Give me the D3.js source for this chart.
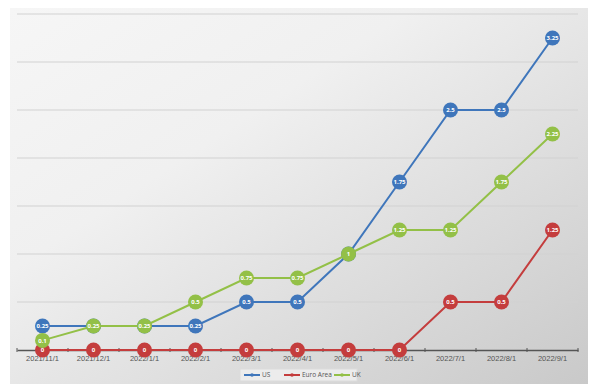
<!DOCTYPE html>
<html>
<head>
<meta charset="utf-8">
<script src="https://cdn.jsdelivr.net/npm/d3@7"></script>
<style>
  body { margin: 0; background: #fff; }
  svg { display: block; font-family: "Open Sans", "DejaVu Sans", sans-serif; }
</style>
</head>
<body>
<div id="chart"></div>
<script>
// categories and series values
var dates = ["2021/11/1", "2021/12/1", "2022/1/1", "2022/2/1", "2022/3/1", "2022/4/1",
             "2022/5/1", "2022/6/1", "2022/7/1", "2022/8/1", "2022/9/1"];
var usRates = [0.25, 0.25, 0.25, 0.25, 0.5, 0.5, 1, 1.75, 2.5, 2.5, 3.25];
var euroRates = [0, 0, 0, 0, 0, 0, 0, 0, 0.5, 0.5, 1.25];
var ukRates = [0.1, 0.25, 0.25, 0.5, 0.75, 0.75, 1, 1.25, 1.25, 1.75, 2.25];
var seriesNames = ["US", "Euro Area", "UK"];
var yTicks = [0, 0.5, 1, 1.5, 2, 2.5, 3, 3.5];

var svgWidth = 600;
var svgHeight = 389;

var colors = { "US": "#3f76bb", "Euro Area": "#c43d3d", "UK": "#93c047" };

var svg = d3.select("#chart")
    .append("svg")
    .attr("width", svgWidth)
    .attr("height", svgHeight);

// background panel gradient
var defs = svg.append("defs");
var grad = defs.append("linearGradient")
    .attr("id", "bg")
    .attr("x1", "0").attr("y1", "0")
    .attr("x2", "1").attr("y2", "1");
grad.append("stop").attr("offset", "0%").attr("stop-color", "#f6f6f6");
grad.append("stop").attr("offset", "35%").attr("stop-color", "#f0f0f0");
grad.append("stop").attr("offset", "100%").attr("stop-color", "#c9c9c9");

svg.append("rect")
    .attr("x", 10).attr("y", 8)
    .attr("width", 578).attr("height", 376)
    .attr("fill", "url(#bg)");

// scales
var xScale = d3.scaleBand()
    .domain(dates)
    .range([17, 578]);

var yScale = d3.scaleLinear()
    .domain([0, 3.5])
    .range([350, 14]);

// gridlines
svg.append("g")
    .selectAll("line")
    .data(yTicks.filter(d => d > 0))
    .enter()
    .append("line")
    .attr("x1", 17)
    .attr("x2", 578)
    .attr("y1", d => yScale(d))
    .attr("y2", d => yScale(d))
    .attr("stroke", "#d2d2d2")
    .attr("stroke-width", 1.2);

// x axis
var xAxis = d3.axisBottom(xScale).tickSize(0).tickPadding(6);
var xg = svg.append("g")
    .attr("transform", `translate(0, ${yScale(0)})`)
    .call(xAxis);
xg.select(".domain").attr("stroke", "#555").attr("stroke-width", 1.3);
xg.selectAll("text")
    .attr("fill", "#555")
    .style("font-size", "7.5px");

// tick marks between categories
svg.append("g")
    .selectAll("line")
    .data(dates.concat(["end"]))
    .enter()
    .append("line")
    .attr("x1", (d, i) => i < dates.length ? xScale(d) : xScale.range()[1])
    .attr("x2", (d, i) => i < dates.length ? xScale(d) : xScale.range()[1])
    .attr("y1", yScale(0) - 2)
    .attr("y2", yScale(0) + 2)
    .attr("stroke", "#555");

// series
var seriesData = [
    { name: "Euro Area", values: euroRates },
    { name: "US", values: usRates },
    { name: "UK", values: ukRates }
];

var line = d3.line()
    .x((d, i) => xScale(dates[i]) + xScale.bandwidth() / 2)
    .y(d => yScale(d));

seriesData.forEach(function(s) {
    var g = svg.append("g");
    g.append("path")
        .attr("d", line(s.values))
        .attr("fill", "none")
        .attr("stroke", colors[s.name])
        .attr("stroke-width", 2);

    var pts = g.selectAll(".pt")
        .data(s.values)
        .enter()
        .append("g")
        .attr("transform", (d, i) =>
            `translate(${xScale(dates[i]) + xScale.bandwidth() / 2}, ${yScale(d)})`);

    pts.append("circle")
        .attr("r", 7.5)
        .attr("fill", colors[s.name]);

    pts.append("text")
        .attr("text-anchor", "middle")
        .attr("dy", "0.35em")
        .attr("fill", "#fff")
        .style("font-size", "6px")
        .style("font-weight", "bold")
        .text(d => d);
});

// legend
var legend = svg.append("g");
legend.append("rect")
    .attr("x", 240).attr("y", 369)
    .attr("width", 117).attr("height", 12)
    .attr("fill", "#ececec")
    .attr("stroke", "#dcdcdc");

var legendX = [244, 284, 334];
seriesNames.forEach(function(name, i) {
    var lg = legend.append("g").attr("transform", `translate(${legendX[i]}, 375)`);
    lg.append("line")
        .attr("x1", 0).attr("x2", 16)
        .attr("stroke", colors[name])
        .attr("stroke-width", 2);
    lg.append("circle")
        .attr("cx", 8).attr("r", 1.8)
        .attr("fill", colors[name]);
    lg.append("text")
        .attr("x", 18)
        .attr("dy", "0.35em")
        .attr("fill", "#555")
        .style("font-size", "6.5px")
        .text(name);
});
</script>
</body>
</html>
